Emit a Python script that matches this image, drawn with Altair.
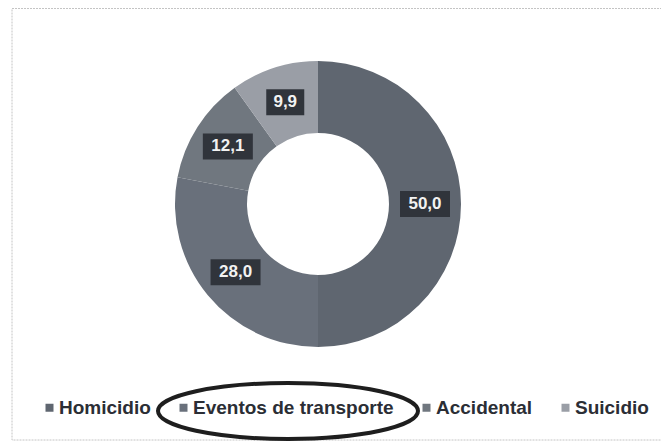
import altair as alt
import pandas as pd

categories = ["Homicidio", "Eventos de transporte", "Accidental", "Suicidio"]
values = [50.0, 28.0, 12.1, 9.9]
labels = ["50,0", "28,0", "12,1", "9,9"]
colors = ["#5f6670", "#69707b", "#70777f", "#9a9ea6"]

df = pd.DataFrame({"cat": categories, "value": values, "label": labels, "idx": list(range(len(values)))})

CX, CY, R_OUT, R_IN, R_LAB = 310, 196, 143, 71, 107

color_scale = alt.Scale(domain=categories, range=colors)
base = alt.Chart(df)

border = base.mark_rect(fill=None, stroke="#c4c4c4", strokeWidth=1, strokeDash=[2, 1]).encode(
    x=alt.value(4), x2=alt.value(720), y=alt.value(0.5), y2=alt.value(432)
).transform_filter("datum.idx == 0")

donut = base.mark_arc(radius=R_OUT, radius2=R_IN).encode(
    theta=alt.Theta("value:Q", stack=True),
    color=alt.Color(
        "cat:N", scale=color_scale, sort=categories,
        legend=alt.Legend(
            orient="none", legendX=32, legendY=390, direction="horizontal", title=None,
            symbolType="square", symbolSize=64, symbolStrokeWidth=0,
            labelFont="Liberation Sans", labelFontWeight="bold", labelFontSize=19,
            labelColor="#2b2e35", labelOffset=0, columnPadding=23, labelLimit=400,
        ),
    ),
    order=alt.Order("idx:Q"),
    x=alt.value(CX), y=alt.value(CY),
)

lab = base.transform_window(
    cum="sum(value)", sort=[alt.SortField("idx")], frame=[None, 0]
).transform_joinaggregate(total="sum(value)").transform_calculate(
    ang="2*PI*(datum.cum - datum.value/2)/datum.total"
).transform_calculate(
    px=f"{CX} + {R_LAB}*sin(datum.ang)",
    py=f"{CY} - {R_LAB}*cos(datum.ang)",
    hw="length(datum.label)*6 + 1",
).transform_calculate(
    bx1="datum.px - datum.hw", bx2="datum.px + datum.hw",
    by1="datum.py - 13", by2="datum.py + 13",
)

boxes = lab.mark_rect(color="#30343b").encode(
    x=alt.X("bx1:Q", scale=None), x2="bx2:Q",
    y=alt.Y("by1:Q", scale=None), y2="by2:Q",
)
texts = lab.mark_text(font="Liberation Sans", fontSize=17, fontWeight="bold", color="#f2f2f2",
                      align="center", baseline="middle").encode(
    x=alt.X("px:Q", scale=None), y=alt.Y("py:Q", scale=None), text="label:N"
)

ellipse = base.mark_point(
    shape="M-1,0 A1,0.215 0 1,0 1,0 A1,0.215 0 1,0 -1,0 Z",
    filled=False, stroke="#1e1e1e", strokeWidth=4, opacity=1, size=67600,
).encode(x=alt.value(280), y=alt.value(403)).transform_filter("datum.idx == 0")

chart = alt.layer(border, donut, boxes, texts, ellipse).properties(
    width=653, height=434, padding=0, autosize=alt.AutoSizeParams(type="none"),
    background="white",
).configure_view(stroke=None)

chart.save("out.html", embed_options={"renderer": "svg", "actions": False})
